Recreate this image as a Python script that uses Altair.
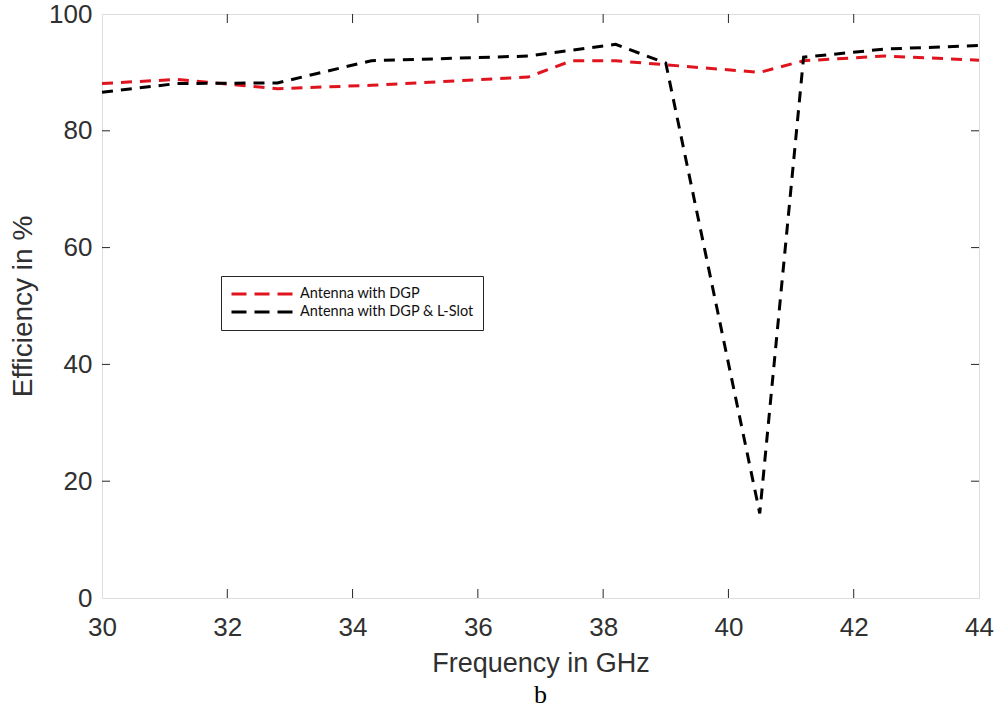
import altair as alt
import pandas as pd

# Data
freq_dgp = [30.0, 31.2, 32.8, 34.3, 36.8, 37.5, 38.2, 39.0, 40.5, 41.2, 42.5, 44.0]
eff_dgp = [88.1, 88.8, 87.2, 87.8, 89.2, 92.0, 92.0, 91.3, 90.0, 92.0, 92.8, 92.1]

freq_lslot = [30.0, 31.2, 32.8, 34.3, 36.8, 38.2, 39.0, 40.5, 41.2, 42.5, 44.0]
eff_lslot = [86.6, 88.1, 88.2, 92.0, 92.8, 94.8, 91.6, 14.5, 92.6, 94.0, 94.6]

series_names = ["Antenna with DGP", "Antenna with DGP & L-Slot"]
series_colors = ["#e0141e", "#000000"]

x_ticks = [30, 32, 34, 36, 38, 40, 42, 44]
y_ticks = [0, 20, 40, 60, 80, 100]

rows = []
for f, e in zip(freq_dgp, eff_dgp):
    rows.append({"freq": f, "eff": e, "series": series_names[0]})
for f, e in zip(freq_lslot, eff_lslot):
    rows.append({"freq": f, "eff": e, "series": series_names[1]})
df = pd.DataFrame(rows)

W, H = 877, 584
FONT = "Liberation Sans"
TXT = "#303030"

xscale = alt.Scale(domain=[30, 44], nice=False, zero=False)
yscale = alt.Scale(domain=[0, 100], nice=False)

lines = alt.Chart(df).mark_line(strokeWidth=3, strokeDash=[11, 8]).encode(
    x=alt.X("freq:Q", scale=xscale,
            axis=alt.Axis(values=x_ticks, format="d", tickSize=0, domain=False, grid=False,
                          labelFlush=False,
                          labelFontSize=26, labelFont=FONT, labelColor=TXT,
                          labelPadding=16, title="Frequency in GHz",
                          titleFontSize=27, titleFont=FONT, titleColor=TXT,
                          titleFontWeight="normal", titlePadding=10)),
    y=alt.Y("eff:Q", scale=yscale,
            axis=alt.Axis(values=y_ticks, tickSize=0, domain=False, grid=False,
                          labelFlush=False,
                          labelFontSize=26, labelFont=FONT, labelColor=TXT,
                          labelPadding=10, title="Efficiency in %",
                          titleFontSize=28, titleFont=FONT, titleColor=TXT,
                          titleFontWeight="normal", titlePadding=11)),
    color=alt.Color("series:N",
                    scale=alt.Scale(domain=series_names, range=series_colors),
                    legend=alt.Legend(orient="none", legendX=119, legendY=262,
                                      title=None, fillColor="white",
                                      strokeColor="#262626", padding=9,
                                      labelFontSize=14.5, labelFont="Lato",
                                      labelColor="#111111", labelOffset=4,
                                      symbolType="stroke", symbolSize=3969,
                                      symbolStrokeWidth=3, symbolDash=[15, 8],
                                      clipHeight=18, rowPadding=0, labelLimit=400)),
    detail="series:N",
    order="freq:Q",
)

xt = pd.DataFrame({"v": x_ticks[1:-1]})
yt = pd.DataFrame({"v": y_ticks[1:-1]})

tick_style = dict(color="#262626", strokeWidth=1)
bottom_ticks = alt.Chart(xt).mark_rule(**tick_style).encode(
    x=alt.X("v:Q", scale=xscale), y=alt.value(H), y2=alt.value(H - 9))
top_ticks = alt.Chart(xt).mark_rule(**tick_style).encode(
    x=alt.X("v:Q", scale=xscale), y=alt.value(0), y2=alt.value(9))
left_ticks = alt.Chart(yt).mark_rule(**tick_style).encode(
    y=alt.Y("v:Q", scale=yscale), x=alt.value(0), x2=alt.value(8))
right_ticks = alt.Chart(yt).mark_rule(**tick_style).encode(
    y=alt.Y("v:Q", scale=yscale), x=alt.value(W), x2=alt.value(W - 8))

chart = alt.layer(bottom_ticks, top_ticks, left_ticks, right_ticks, lines).properties(
    width=W, height=H,
    autosize=alt.AutoSizeParams(type="none"),
    padding={"left": 102, "top": 14, "right": 20, "bottom": 112},
    title=alt.TitleParams("b", orient="bottom", font="Liberation Serif",
                          fontSize=26, fontWeight="normal", color="#000000",
                          offset=6),
).configure_view(stroke="#262626", strokeWidth=1.2).configure(background="white")

chart.save("out.html", embed_options={"renderer": "svg", "actions": False})
